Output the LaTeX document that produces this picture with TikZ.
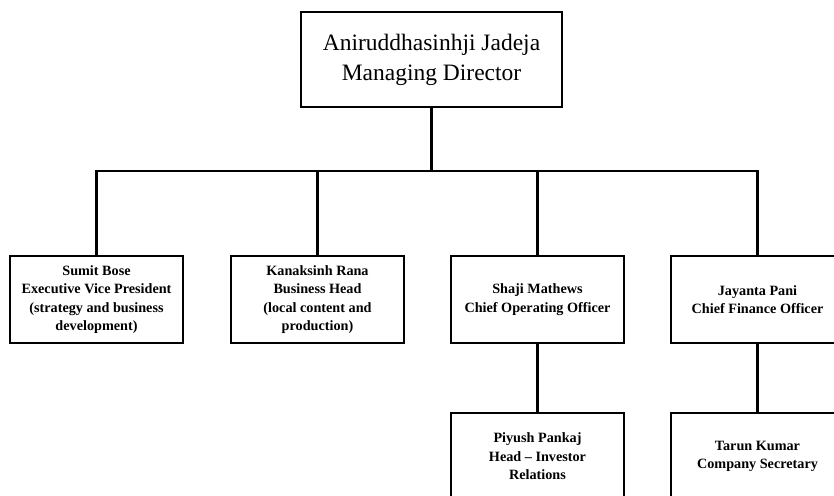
\documentclass[tikz,border=0pt]{standalone}
\usepackage{fontspec}
\setmainfont{Liberation Serif}
\begin{document}
\begin{tikzpicture}[x=1pt,y=-1pt,
  line width=2.4pt,
  topbox/.style={draw, line width=2.4pt, minimum width=261pt, minimum height=95pt, inner sep=0pt, align=center,
     font=\fontsize{23.5}{30}\selectfont},
  staffbox/.style={draw, line width=2.4pt, minimum width=173pt, minimum height=87pt, inner sep=0pt, align=center,
     font=\bfseries\fontsize{14.2}{18.5}\selectfont},
  link/.style={draw, line width=2.4pt}
]
\useasboundingbox (0,0) rectangle (834,495);
\node[topbox] (md) at (431.5,59.5) {Aniruddhasinhji Jadeja\\Managing Director};
\coordinate (bus) at (431.5,171);
\node[staffbox] (sb) at (96.5,299.5) {Sumit Bose\\Executive Vice President\\(strategy and business\\development)};
\node[staffbox] (kr) at (317.5,299.5) {Kanaksinh Rana\\Business Head\\(local content and\\production)};
\node[staffbox] (sm) at (537.5,299.5) {Shaji Mathews\\Chief Operating Officer};
\node[staffbox] (jp) at (757.5,299.5) {Jayanta Pani\\Chief Finance Officer};
\node[staffbox] (pp) at (537.5,456.5) {Piyush Pankaj\\Head -- Investor\\Relations};
\node[staffbox] (tk) at (757.5,456.5) {Tarun Kumar\\Company Secretary};
\path[link] (md.south) -- (bus);
\path[link] (bus) -| (sb.north);
\path[link] (bus) -| (kr.north);
\path[link] (bus) -| (sm.north);
\path[link] (bus) -| (jp.north);
\path[link] (sm.south) -- (pp.north);
\path[link] (jp.south) -- (tk.north);
\end{tikzpicture}
\end{document}
